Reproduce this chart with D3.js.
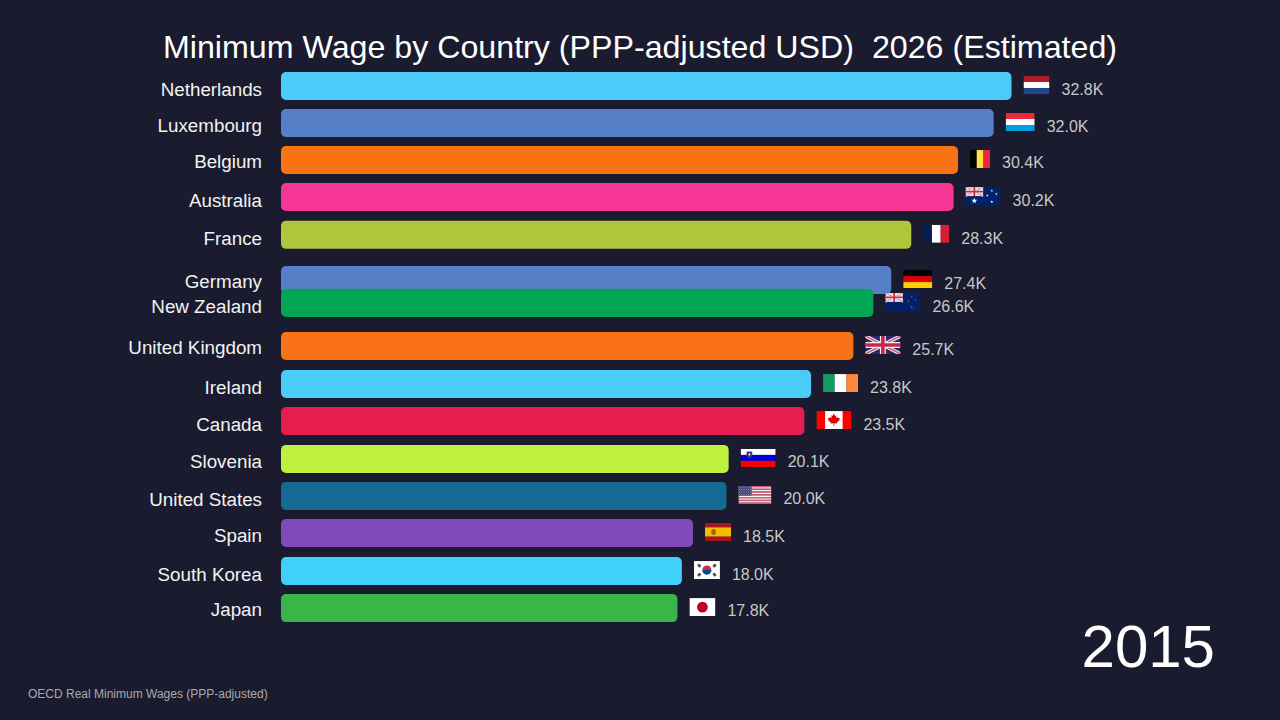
<!DOCTYPE html>
<html>
<head>
<meta charset="utf-8">
<title>Minimum Wage by Country</title>
<script src="https://cdnjs.cloudflare.com/ajax/libs/d3/7.9.0/d3.min.js"></script>
<style>
  html, body { margin: 0; padding: 0; background: #1a1b2e; }
  svg { display: block; font-family: "Liberation Sans", Arial, sans-serif; }
</style>
</head>
<body>
<svg id="chart" width="1280" height="720"></svg>
<script>
const countries = ["Netherlands","Luxembourg","Belgium","Australia","France","Germany","New Zealand","United Kingdom","Ireland","Canada","Slovenia","United States","Spain","South Korea","Japan"];
const wages = [32.8,32.0,30.4,30.2,28.3,27.4,26.6,25.7,23.8,23.5,20.1,20.0,18.5,18.0,17.8];
const flagCodes = ["nl","lu","be","au","fr","de","nz","gb","ie","ca","si","us","es","kr","jp"];
const barColors = ["#4bcbf8","#5580c8","#f97316","#f63694","#afc63a","#5580c8","#00a651","#f97316","#4bcbf8","#e61e4d","#bef03e","#146a94","#8249b8","#40d0fa","#39b54a"];
// Rows are caught mid-transition, so each part of a row carries its own fractional rank.
const barRanks = [0,0.99,1.98,2.97,3.98,5.19,5.8,6.95,7.97,8.96,9.97,10.96,11.95,12.97,13.96];
const nameRanks = [0.08,1.04,2.0,3.05,4.06,5.21,5.88,6.98,8.05,9.04,10.03,11.04,11.99,13.05,13.98];
const valueRanks = [0.08,1.07,2.03,3.05,4.06,5.27,5.88,7.03,8.05,9.04,10.03,11.02,12.03,13.05,14.01];
const titleText = "Minimum Wage by Country (PPP-adjusted USD)  2026 (Estimated)";
const sourceText = "OECD Real Minimum Wages (PPP-adjusted)";
const yearText = "2015";

const BAR_H = 28, FLAG_H = 18, GAP = 12, TEXT_NUDGE = 0.7;
const flagWidths = {nl:26,lu:29,be:20,au:35,fr:26,de:29,nz:35,gb:35,ie:35,ca:35,si:35,us:33,es:26,kr:26,jp:26};

const svg = d3.select("#chart");
const x = d3.scaleLinear().domain([0, 32.8]).range([281, 1011.5]);
const y = d3.scaleLinear().domain([0, 14]).range([86, 609.6]);
const fmt = d3.format(".1f");

svg.append("rect").attr("width", 1280).attr("height", 720).attr("fill", "#1a1b2e");

svg.append("text").attr("x", 640).attr("y", 47)
  .attr("text-anchor", "middle").attr("dominant-baseline", "central")
  .attr("font-size", 32.2).attr("fill", "#ffffff").style("white-space", "pre").text(titleText);

// Small helpers shared by the flag painters
const rect = (g, px, py, w, h, fill) => g.append("rect").attr("x", px).attr("y", py).attr("width", w).attr("height", h).attr("fill", fill);
const hStripes = (g, w, h, cols) => cols.forEach((c, i) => rect(g, 0, i * h / cols.length, w, h / cols.length + 0.1, c));
const vStripes = (g, w, h, cols) => cols.forEach((c, i) => rect(g, i * w / cols.length, 0, w / cols.length + 0.1, h, c));
const star = (g, cx, cy, r, fill) => g.append("path")
  .attr("d", d3.symbol(d3.symbolStar, Math.PI * r * r * 0.6)())
  .attr("transform", `translate(${cx},${cy})`).attr("fill", fill);

function unionJack(g, w, h, base) {
  rect(g, 0, 0, w, h, base);
  const line = (x1, y1, x2, y2, sw, c) => g.append("line").attr("x1", x1).attr("y1", y1).attr("x2", x2).attr("y2", y2).attr("stroke", c).attr("stroke-width", sw);
  line(0, 0, w, h, h * 0.2, "#f4eef2"); line(w, 0, 0, h, h * 0.2, "#f4eef2");
  line(0, 0, w, h, h * 0.08, "#c8506a"); line(w, 0, 0, h, h * 0.08, "#c8506a");
  line(w / 2, 0, w / 2, h, h * 0.33, "#f4eef2"); line(0, h / 2, w, h / 2, h * 0.33, "#f4eef2");
  line(w / 2, 0, w / 2, h, h * 0.2, "#c8284a"); line(0, h / 2, w, h / 2, h * 0.2, "#c8284a");
}

function southernFlag(g, w, h, stars) {
  rect(g, 0, 0, w, h, "#012169");
  unionJack(g.append("g"), w / 2, h / 2, "#e8d8e0");
  stars.forEach(s => star(g, s[0] * w, s[1] * h, s[2], s[3]));
}

const painters = {
  nl: (g, w, h) => hStripes(g, w, h, ["#ae1c28", "#ffffff", "#21468b"]),
  lu: (g, w, h) => hStripes(g, w, h, ["#ed2939", "#ffffff", "#00a1de"]),
  be: (g, w, h) => vStripes(g, w, h, ["#000000", "#fae042", "#ed2939"]),
  fr: (g, w, h) => vStripes(g, w, h, ["#002054", "#ffffff", "#d81e32"]),
  de: (g, w, h) => hStripes(g, w, h, ["#000000", "#dd0000", "#ffce00"]),
  ie: (g, w, h) => vStripes(g, w, h, ["#169b62", "#ffffff", "#ff883e"]),
  au: (g, w, h) => southernFlag(g, w, h, [[0.25,0.76,2.4,"#fff"],[0.75,0.2,1.1,"#fff"],[0.62,0.46,1.1,"#fff"],[0.88,0.38,1.1,"#fff"],[0.75,0.82,1.2,"#fff"]]),
  nz: (g, w, h) => southernFlag(g, w, h, [[0.75,0.22,1.1,"#a8405c"],[0.65,0.46,1.1,"#a8405c"],[0.86,0.4,1,"#a8405c"],[0.75,0.8,1.2,"#a8405c"]]),
  gb: (g, w, h) => unionJack(g, w, h, "#2a2a6e"),
  ca: (g, w, h) => {
    rect(g, 0, 0, w, h, "#ff0000");
    rect(g, w * 0.25, 0, w * 0.5, h, "#ffffff");
    const leaf = [[0,-6.6],[1.3,-4.2],[2.6,-4.9],[2.1,-1.9],[3.6,-3.1],[4,-2],[6,-2.3],[5.3,-0.4],[6,0],[3,2.4],[3.4,3.5],[0.4,3.2],[0.4,5.8],[-0.4,5.8],[-0.4,3.2],[-3.4,3.5],[-3,2.4],[-6,0],[-5.3,-0.4],[-6,-2.3],[-4,-2],[-3.6,-3.1],[-2.1,-1.9],[-2.6,-4.9],[-1.3,-4.2]];
    g.append("path").attr("d", d3.line()(leaf) + "Z").attr("transform", `translate(${w / 2},${h / 2})`).attr("fill", "#e00000");
  },
  si: (g, w, h) => {
    hStripes(g, w, h, ["#ffffff", "#0000d8", "#ff0000"]);
    g.append("path").attr("d", "M-2.6,-2.6H2.6V0.6Q2.6,2.6 0,3.4Q-2.6,2.6 -2.6,0.6Z")
      .attr("transform", `translate(${w * 0.25},${h * 0.31})`).attr("fill", "#1a3c9c").attr("stroke", "#c02020").attr("stroke-width", 0.5);
    g.append("circle").attr("cx", w * 0.25).attr("cy", h * 0.31).attr("r", 1).attr("fill", "#fff");
  },
  us: (g, w, h) => {
    hStripes(g, w, h, d3.range(13).map(i => i % 2 ? "#fff4f6" : "#d05a74"));
    rect(g, 0, 0, w * 0.4, h * 7 / 13, "#4a4a78");
    d3.range(4).forEach(r => d3.range(6).forEach(c =>
      g.append("circle").attr("cx", w * 0.4 * (c + 0.5) / 6).attr("cy", (h * 7 / 13) * (r + 0.5) / 4).attr("r", 0.45).attr("fill", "#c9c9de")));
  },
  es: (g, w, h) => {
    rect(g, 0, 0, w, h, "#aa151b");
    rect(g, 0, h * 0.25, w, h * 0.5, "#f1bf00");
    g.append("ellipse").attr("cx", w * 0.33).attr("cy", h * 0.5).attr("rx", 2.4).attr("ry", 3).attr("fill", "#ad5a1a");
  },
  kr: (g, w, h) => {
    rect(g, 0, 0, w, h, "#ffffff");
    const cx = w / 2, cy = h / 2, r = 4.6;
    g.append("path").attr("d", `M${cx - r},${cy}A${r},${r} 0 0 1 ${cx + r},${cy}Z`).attr("fill", "#cd2e3a");
    g.append("path").attr("d", `M${cx - r},${cy}A${r},${r} 0 0 0 ${cx + r},${cy}Z`).attr("fill", "#0047a0");
    [[-1,-1],[1,-1],[-1,1],[1,1]].forEach(s =>
      g.append("line").attr("x1", cx + s[0] * 6.5).attr("y1", cy + s[1] * 3.2).attr("x2", cx + s[0] * 8.8).attr("y2", cy + s[1] * 5.8)
        .attr("stroke", "#4a4a4a").attr("stroke-width", 2.6));
  },
  jp: (g, w, h) => {
    rect(g, 0, 0, w, h, "#ffffff");
    g.append("circle").attr("cx", w / 2).attr("cy", h / 2).attr("r", h * 0.3).attr("fill", "#bc002d");
  }
};

const rows = countries.map((name, i) => ({
  name, value: wages[i], code: flagCodes[i], color: barColors[i],
  barRank: barRanks[i], nameRank: nameRanks[i], valueRank: valueRanks[i]
}));

const row = svg.selectAll("g.row").data(rows).join("g").attr("class", "row");

row.append("rect")
  .attr("x", x(0))
  .attr("y", d => y(d.barRank) - BAR_H / 2)
  .attr("width", d => x(d.value) - x(0))
  .attr("height", BAR_H)
  .attr("rx", 5)
  .attr("fill", d => d.color);

row.append("text")
  .attr("x", 262)
  .attr("y", d => y(d.nameRank) + TEXT_NUDGE)
  .attr("text-anchor", "end").attr("dominant-baseline", "central")
  .attr("font-size", 18.8).attr("fill", "#f2f2f2")
  .text(d => d.name);

row.each(function (d) {
  const w = flagWidths[d.code];
  const g = d3.select(this).append("g")
    .attr("transform", `translate(${x(d.value) + GAP},${y(d.barRank) - 1 - FLAG_H / 2})`);
  const id = "clip-" + d.code;
  g.append("clipPath").attr("id", id).append("rect").attr("width", w).attr("height", FLAG_H);
  painters[d.code](g.append("g").attr("clip-path", `url(#${id})`), w, FLAG_H);
});

row.append("text")
  .attr("x", d => x(d.value) + GAP + flagWidths[d.code] + GAP)
  .attr("y", d => y(d.valueRank) + TEXT_NUDGE)
  .attr("dominant-baseline", "central")
  .attr("font-size", 16).attr("fill", "#c8c8c8")
  .text(d => fmt(d.value) + "K");

svg.append("text").attr("x", 1215).attr("y", 646)
  .attr("text-anchor", "end").attr("dominant-baseline", "central")
  .attr("font-size", 60).attr("fill", "#ffffff").text(yearText);

svg.append("text").attr("x", 28).attr("y", 694)
  .attr("dominant-baseline", "central")
  .attr("font-size", 12).attr("fill", "#aaaaaa").text(sourceText);
</script>
</body>
</html>
